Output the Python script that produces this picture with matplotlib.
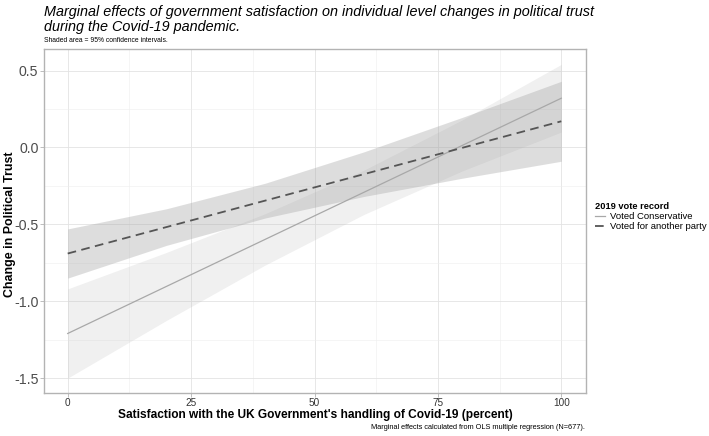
import matplotlib
matplotlib.use("Agg")
import matplotlib.pyplot as plt
from matplotlib.ticker import MultipleLocator

plt.rcParams['font.family'] = ['Liberation Sans', 'DejaVu Sans']

sat = [0, 20, 40, 60, 80, 100]

# Voted Conservative
con_fit = [-1.21, -0.904, -0.598, -0.292, 0.014, 0.32]
con_lo = [-1.50, -1.125, -0.765, -0.436, -0.152, 0.10]
con_hi = [-0.92, -0.683, -0.431, -0.148, 0.180, 0.54]

# Voted for another party
oth_fit = [-0.69, -0.518, -0.346, -0.174, -0.002, 0.17]
oth_lo = [-0.85, -0.637, -0.459, -0.319, -0.200, -0.09]
oth_hi = [-0.53, -0.399, -0.233, -0.029, 0.196, 0.43]

fig = plt.figure(figsize=(7.09, 4.36), dpi=100)
ax = fig.add_axes([44/709, 1-393/436, (586-44)/709, (393-49)/436])

ax.fill_between(sat, con_lo, con_hi, color='#bbbbbb', alpha=0.22, lw=0, zorder=2)
ax.fill_between(sat, oth_lo, oth_hi, color='#a0a0a0', alpha=0.35, lw=0, zorder=2)
ax.plot(sat, con_fit, color='#a8a8a8', lw=0.9, zorder=3, label='Voted Conservative')
ax.plot(sat, oth_fit, color='#555555', lw=1.3, ls=(0, (4.8, 3)), zorder=3,
        label='Voted for another party')

ax.set_xlim(-4.8, 105)
ax.set_ylim(-1.597, 0.64)
ax.xaxis.set_major_locator(MultipleLocator(25))
ax.xaxis.set_minor_locator(MultipleLocator(12.5))
ax.yaxis.set_major_locator(MultipleLocator(0.5))
ax.yaxis.set_minor_locator(MultipleLocator(0.25))
ax.set_yticks([-1.5, -1.0, -0.5, 0.0, 0.5])
ax.set_yticklabels(['-1.5', '-1.0', '-0.5', '0.0', '0.5'])
ax.grid(True, which='major', color='#e3e3e3', lw=0.6, zorder=0)
ax.grid(True, which='minor', color='#eeeeee', lw=0.4, zorder=0)
ax.set_axisbelow(True)
for s in ax.spines.values():
    s.set_color('#b3b3b3')
    s.set_linewidth(1.0)
ax.tick_params(which='major', length=3, color='#b3b3b3', width=0.6)
ax.tick_params(which='minor', length=0)
ax.tick_params(axis='y', labelsize=10.2, labelcolor='#4d4d4d', pad=1)
ax.tick_params(axis='x', labelsize=7.2, labelcolor='#333333', pad=0.5)

ax.set_xlabel("Satisfaction with the UK Government's handling of Covid-19 (percent)",
              fontsize=8.6, fontweight='bold')
ax.xaxis.set_label_coords(0.5, -(415-393)/344, transform=ax.transAxes)
ax.xaxis.label.set_va('center')
ax.set_ylabel('Change in Political Trust', fontsize=8.9, fontweight='bold')
ax.yaxis.set_label_coords(-(44-10)/542, (393-224)/344, transform=ax.transAxes)
ax.yaxis.label.set_va('center')

fig.text(44/709, 1-5/436, 'Marginal effects of government satisfaction on individual level changes in political trust\nduring the Covid-19 pandemic.',
         fontsize=10.4, style='italic', va='top', ha='left', linespacing=1.1)
fig.text(44/709, 1-41/436, 'Shaded area = 95% confidence intervals.', fontsize=4.9, va='center', ha='left')
fig.text(585/709, 1-427/436, 'Marginal effects calculated from OLS multiple regression (N=677).',
         fontsize=5.3, va='center', ha='right')

leg = ax.legend(loc='upper left', bbox_to_anchor=(595/709, 1-202/436), bbox_transform=fig.transFigure,
                frameon=False, fontsize=6.8, title='2019 vote record', title_fontsize=6.7,
                handlelength=1.1, handletextpad=0.5, labelspacing=0.12, borderaxespad=0, borderpad=0)
leg.get_title().set_fontweight('bold')
leg._legend_box.align = 'left'

fig.savefig('out.png', dpi=100)
